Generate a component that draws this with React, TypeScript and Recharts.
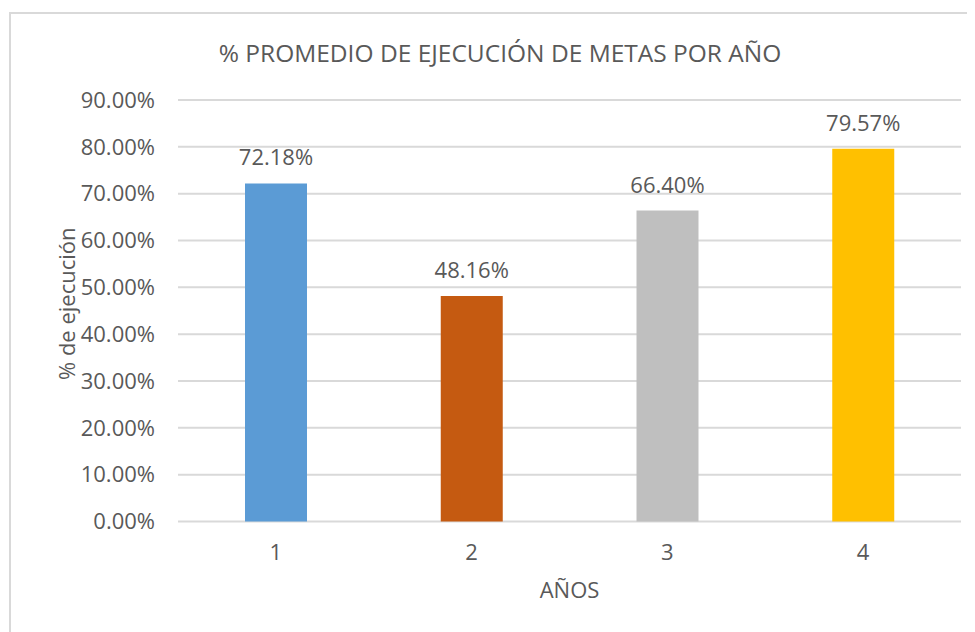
import { BarChart, Bar, XAxis, YAxis, CartesianGrid, Cell, LabelList } from 'recharts'

const years = ['1', '2', '3', '4']
const execution = [72.18, 48.16, 66.4, 79.57]
const barColors = ['#5B9BD5', '#C55A11', '#BFBFBF', '#FFC000']
const yTicks = [0, 10, 20, 30, 40, 50, 60, 70, 80, 90]

const TEXT = '#595959'
const FONT = '"Open Sans", sans-serif'

const data = years.map((year, i) => ({ year, value: execution[i] }))

// eslint-disable-next-line @typescript-eslint/no-explicit-any
function XTitle({ viewBox }: any) {
  if (!viewBox) return null
  return (
    <text
      x={viewBox.x + viewBox.width / 2}
      y={viewBox.y + 76.5}
      textAnchor="middle"
      fill={TEXT}
      fontSize={22}
      fontFamily={FONT}
    >
      AÑOS
    </text>
  )
}

// eslint-disable-next-line @typescript-eslint/no-explicit-any
function YTitle({ viewBox }: any) {
  if (!viewBox) return null
  const x = 67
  const y = viewBox.y + viewBox.height / 2 - 7
  return (
    <text
      x={x}
      y={y}
      transform={`rotate(-90, ${x}, ${y})`}
      textAnchor="middle"
      fill={TEXT}
      fontSize={22}
      fontFamily={FONT}
    >
      % de ejecución
    </text>
  )
}

export default function App() {
  return (
    <div style={{ position: 'relative', width: 967, height: 624, overflow: 'hidden', fontFamily: FONT }}>
      <div
        style={{
          position: 'absolute',
          left: 1,
          top: 4,
          width: 1100,
          height: 800,
          border: '2px solid #D9D9D9',
        }}
      />
      <div
        style={{
          position: 'absolute',
          left: 142,
          top: 27.5,
          width: 700,
          textAlign: 'center',
          fontSize: 24.5,
          color: TEXT,
          whiteSpace: 'nowrap',
        }}
      >
        % PROMEDIO DE EJECUCIÓN DE METAS POR AÑO
      </div>
      <div style={{ position: 'absolute', left: 0, top: 0 }}>
        <BarChart
          width={967}
          height={624}
          data={data}
          margin={{ top: 92, right: 14, left: 0, bottom: 80.5 }}
        >
          <CartesianGrid vertical={false} stroke="#D9D9D9" strokeWidth={2} />
          <XAxis
            dataKey="year"
            axisLine={false}
            tickLine={false}
            tickMargin={17}
            height={30}
            tick={{ fill: TEXT, fontSize: 22, fontFamily: FONT }}
            label={<XTitle />}
          />
          <YAxis
            domain={[0, 90]}
            ticks={yTicks}
            width={170}
            axisLine={false}
            tickLine={false}
            tickMargin={17}
            tickFormatter={(v: number) => `${v.toFixed(2)}%`}
            tick={{ fill: TEXT, fontSize: 22, fontFamily: FONT }}
            label={<YTitle />}
          />
          <Bar dataKey="value" barSize={62} isAnimationActive={false}>
            {data.map((d, i) => (
              <Cell key={d.year} fill={barColors[i]} />
            ))}
            <LabelList
              dataKey="value"
              position="top"
              offset={18}
              formatter={(v: number) => `${v.toFixed(2)}%`}
              fill={TEXT}
              fontSize={22}
              fontFamily={FONT}
            />
          </Bar>
        </BarChart>
      </div>
    </div>
  )
}
